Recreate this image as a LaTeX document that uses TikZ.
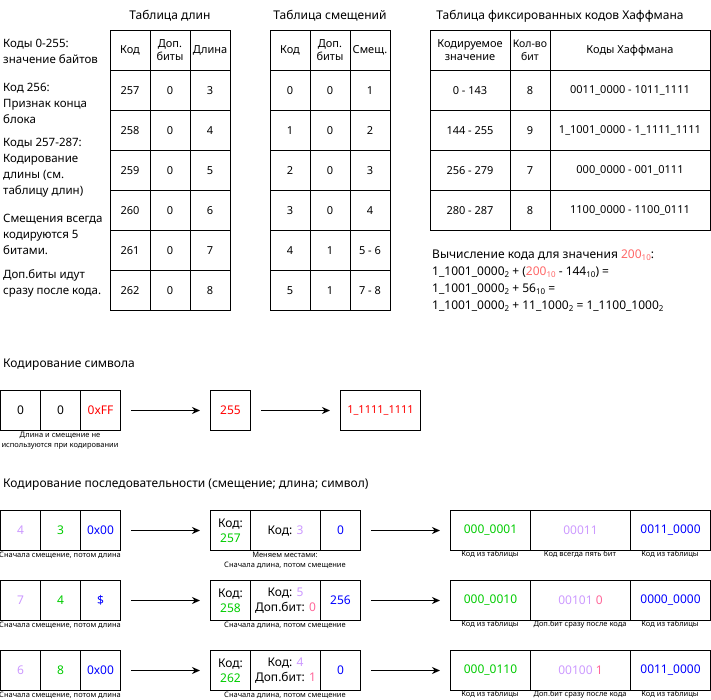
\documentclass[tikz,border=0pt]{standalone}
\usepackage{fontspec}
\setmainfont{Noto Sans}
\usetikzlibrary{arrows.meta}
\definecolor{cLav}{HTML}{CC99FF}
\definecolor{cGrn}{HTML}{00CC00}
\definecolor{cBlu}{HTML}{0000FF}
\definecolor{cPnk}{HTML}{FF6699}
\definecolor{cRed}{HTML}{FF0000}
\definecolor{cSal}{HTML}{FF6666}
\newcommand{\lowidx}[1]{\raisebox{-2.5pt}{\fontsize{8}{8}\selectfont #1}}
\begin{document}
\begin{tikzpicture}[x=1pt,y=-1pt,
  cell/.style={draw, line width=1pt, inner sep=0pt, minimum height=40pt, align=center, font=\fontsize{11}{13}\selectfont},
  box/.style={draw, line width=1pt, inner sep=0pt, minimum height=39.5pt, align=center, font=\fontsize{12}{15}\selectfont},
  ttl/.style={inner sep=0pt, font=\fontsize{12}{16}\selectfont},
  para/.style={inner sep=0pt, anchor=west, align=left, font=\fontsize{11.5}{16}\selectfont},
  calc/.style={inner sep=0pt, anchor=west, font=\fontsize{12}{16}\selectfont},
  capnote/.style={inner sep=0pt, align=center, font=\fontsize{7.5}{10}\selectfont},
  arr/.style={line width=1.2pt, -{Stealth[length=8pt,width=7pt]}, shorten <=10pt, shorten >=10pt}]
\useasboundingbox (0,0) rectangle (711,700);

% left notes
\node[para] (n1) at (3,51) {Коды 0-255:\\значение байтов};
\node[para] (n2) at (3,103) {Код 256:\\Признак конца\\блока};
\node[para] (n3) at (3,167.5) {Коды 257-287:\\Кодирование\\длины (см.\\таблицу длин)};
\node[para] (n4) at (3,234) {Смещения всегда\\кодируются 5\\битами.};
\node[para] (n5) at (3,283) {Доп.биты идут\\сразу после кода.};

% titles
\node[ttl] (t1) at (170,16) {Таблица длин};
\node[ttl] (t2) at (330,16) {Таблица смещений};
\node[ttl] (t3) at (560,16) {Таблица фиксированных кодов Хаффмана};

% length table
\node[cell, minimum width=40pt] (L-0-1) at (130,50.5) {Код};
\node[cell, minimum width=40pt] (L-0-2) at (170,50.5) {Доп.\\биты};
\node[cell, minimum width=40pt] (L-0-3) at (210,50.5) {Длина};
\foreach \k/\a/\b/\c in {1/257/0/3, 2/258/0/4, 3/259/0/5, 4/260/0/6, 5/261/0/7, 6/262/0/8} {
  \node[cell, minimum width=40pt] (L-\k-1) at (130,50.5+40*\k) {\a};
  \node[cell, minimum width=40pt] (L-\k-2) at (170,50.5+40*\k) {\b};
  \node[cell, minimum width=40pt] (L-\k-3) at (210,50.5+40*\k) {\c};
}

% offset table
\node[cell, minimum width=40pt] (O-0-1) at (290,50.5) {Код};
\node[cell, minimum width=40pt] (O-0-2) at (330,50.5) {Доп.\\биты};
\node[cell, minimum width=40pt] (O-0-3) at (370,50.5) {Смещ.};
\foreach \k/\a/\b/\c in {1/0/0/1, 2/1/0/2, 3/2/0/3, 4/3/0/4, 5/4/1/5 - 6, 6/5/1/7 - 8} {
  \node[cell, minimum width=40pt] (O-\k-1) at (290,50.5+40*\k) {\a};
  \node[cell, minimum width=40pt] (O-\k-2) at (330,50.5+40*\k) {\b};
  \node[cell, minimum width=40pt] (O-\k-3) at (370,50.5+40*\k) {\c};
}

% huffman table
\node[cell, minimum width=80pt] (H-0-1) at (470,50.5) {Кодируемое\\значение};
\node[cell, minimum width=40pt, font=\fontsize{10.5}{13}\selectfont] (H-0-2) at (530,50.5) {Кол-во\\бит};
\node[cell, minimum width=160pt] (H-0-3) at (630,50.5) {Коды Хаффмана};
\foreach \k/\a/\b/\c in {1/0 - 143/8/0011\_0000 - 1011\_1111, 2/144 - 255/9/1\_1001\_0000 - 1\_1111\_1111, 3/256 - 279/7/000\_0000 - 001\_0111, 4/280 - 287/8/1100\_0000 - 1100\_0111} {
  \node[cell, minimum width=80pt] (H-\k-1) at (470,50.5+40*\k) {\a};
  \node[cell, minimum width=40pt] (H-\k-2) at (530,50.5+40*\k) {\b};
  \node[cell, minimum width=160pt] (H-\k-3) at (630,50.5+40*\k) {\c};
}

% calculation
\node[calc] (c1) at (432,255) {Вычисление кода для значения \textcolor{cSal}{200\lowidx{10}}:};
\node[calc] (c2) at (432,272) {1\_1001\_0000\lowidx{2} + (\textcolor{cSal}{200\lowidx{10}} - 144\lowidx{10}) =};
\node[calc] (c3) at (432,289) {1\_1001\_0000\lowidx{2} + 56\lowidx{10} =};
\node[calc] (c4) at (432,306) {1\_1001\_0000\lowidx{2} + 11\_1000\lowidx{2} = 1\_1100\_1000\lowidx{2}};

% symbol encoding
\node[ttl, anchor=west] (st) at (3,365) {Кодирование символа};
\node[box, minimum width=40pt] (s1) at (20.5,410.5) {0};
\node[box, minimum width=40pt] (s2) at (60.5,410.5) {0};
\node[box, minimum width=40pt] (s3) at (100.5,410.5) {\textcolor{cRed}{0xFF}};
\node[box, minimum width=40pt] (s4) at (230.5,410.5) {\textcolor{cRed}{255}};
\node[box, minimum width=80pt, font=\fontsize{11}{14}\selectfont] (s5) at (380.5,410.5) {\textcolor{cRed}{1\_1111\_1111}};
\draw[arr] (s3) -- (s4);
\draw[arr] (s4) -- (s5);
\node[capnote] (sc) at (60,440.5) {Длина и смещение не\\используются при кодировании};

% sequence encoding
\node[ttl, anchor=west] (qt) at (3,485) {Кодирование последовательности (смещение; длина; символ)};

% row 1
\node[box, minimum width=40pt] (r1a) at (20.5,530.5) {\textcolor{cLav}{4}};
\node[box, minimum width=40pt] (r1b) at (60.5,530.5) {\textcolor{cGrn}{3}};
\node[box, minimum width=40pt] (r1c) at (100.5,530.5) {\textcolor{cBlu}{0x00}};
\node[box, minimum width=40pt] (r1d) at (230.5,530.5) {Код:\\\textcolor{cGrn}{257}};
\node[box, minimum width=70pt] (r1e) at (285.5,530.5) {Код: \textcolor{cLav}{3}};
\node[box, minimum width=40pt] (r1f) at (340.5,530.5) {\textcolor{cBlu}{0}};
\node[box, minimum width=80pt] (r1g) at (490.5,530.5) {\textcolor{cGrn}{000\_0001}};
\node[box, minimum width=100pt] (r1h) at (580.5,530.5) {\textcolor{cLav}{00011}};
\node[box, minimum width=80pt] (r1i) at (670.5,530.5) {\textcolor{cBlu}{0011\_0000}};
\draw[arr] (r1c) -- (r1d);
\draw[arr] (r1f) -- (r1g);
\node[capnote] (r1ca) at (60,555) {Сначала смещение, потом длина};
\node[capnote] (r1cb) at (285,560) {Меняем местами:\\Сначала длина, потом смещение};
\node[capnote] (r1cc) at (490,554.5) {Код из таблицы};
\node[capnote] (r1cd) at (580,554.5) {Код всегда пять бит};
\node[capnote] (r1ce) at (670,554.5) {Код из таблицы};

% row 2
\node[box, minimum width=40pt] (r2a) at (20.5,600.5) {\textcolor{cLav}{7}};
\node[box, minimum width=40pt] (r2b) at (60.5,600.5) {\textcolor{cGrn}{4}};
\node[box, minimum width=40pt] (r2c) at (100.5,600.5) {\textcolor{cBlu}{\$}};
\node[box, minimum width=40pt] (r2d) at (230.5,600.5) {Код:\\\textcolor{cGrn}{258}};
\node[box, minimum width=70pt] (r2e) at (285.5,600.5) {Код: \textcolor{cLav}{5}\\Доп.бит: \textcolor{cPnk}{0}};
\node[box, minimum width=40pt] (r2f) at (340.5,600.5) {\textcolor{cBlu}{256}};
\node[box, minimum width=80pt] (r2g) at (490.5,600.5) {\textcolor{cGrn}{000\_0010}};
\node[box, minimum width=100pt] (r2h) at (580.5,600.5) {\textcolor{cLav}{00101} \textcolor{cPnk}{0}};
\node[box, minimum width=80pt] (r2i) at (670.5,600.5) {\textcolor{cBlu}{0000\_0000}};
\draw[arr] (r2c) -- (r2d);
\draw[arr] (r2f) -- (r2g);
\node[capnote] (r2ca) at (60,625) {Сначала смещение, потом длина};
\node[capnote] (r2cb) at (285,625) {Сначала длина, потом смещение};
\node[capnote] (r2cc) at (490,624.5) {Код из таблицы};
\node[capnote] (r2cd) at (580,624.5) {Доп.бит сразу после кода};
\node[capnote] (r2ce) at (670,624.5) {Код из таблицы};

% row 3
\node[box, minimum width=40pt] (r3a) at (20.5,670.5) {\textcolor{cLav}{6}};
\node[box, minimum width=40pt] (r3b) at (60.5,670.5) {\textcolor{cGrn}{8}};
\node[box, minimum width=40pt] (r3c) at (100.5,670.5) {\textcolor{cBlu}{0x00}};
\node[box, minimum width=40pt] (r3d) at (230.5,670.5) {Код:\\\textcolor{cGrn}{262}};
\node[box, minimum width=70pt] (r3e) at (285.5,670.5) {Код: \textcolor{cLav}{4}\\Доп.бит: \textcolor{cPnk}{1}};
\node[box, minimum width=40pt] (r3f) at (340.5,670.5) {\textcolor{cBlu}{0}};
\node[box, minimum width=80pt] (r3g) at (490.5,670.5) {\textcolor{cGrn}{000\_0110}};
\node[box, minimum width=100pt] (r3h) at (580.5,670.5) {\textcolor{cLav}{00100} \textcolor{cPnk}{1}};
\node[box, minimum width=80pt] (r3i) at (670.5,670.5) {\textcolor{cBlu}{0011\_0000}};
\draw[arr] (r3c) -- (r3d);
\draw[arr] (r3f) -- (r3g);
\node[capnote] (r3ca) at (60,695) {Сначала смещение, потом длина};
\node[capnote] (r3cb) at (285,695) {Сначала длина, потом смещение};
\node[capnote] (r3cc) at (490,694.5) {Код из таблицы};
\node[capnote] (r3cd) at (580,694.5) {Доп.бит сразу после кода};
\node[capnote] (r3ce) at (670,694.5) {Код из таблицы};
\end{tikzpicture}
\end{document}
